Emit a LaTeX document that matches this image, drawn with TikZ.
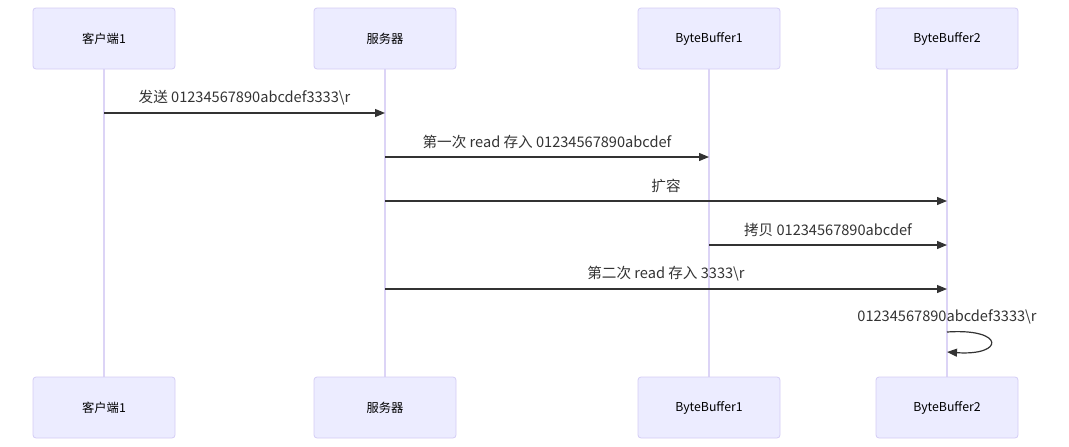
\documentclass[tikz,border=0pt]{standalone}
\usepackage{fontspec}
\setmainfont{Noto Sans CJK SC}
\usetikzlibrary{arrows.meta}
\definecolor{actfill}{HTML}{ECECFF}
\definecolor{actline}{HTML}{D4CCF5}
\definecolor{lifeline}{HTML}{DCD4F6}
\definecolor{msg}{HTML}{333333}
\tikzset{
  actor/.style={draw=actline, fill=actfill, rounded corners=3pt, line width=0.8pt,
    minimum width=142pt, minimum height=61pt, font=\fontsize{12.3}{14}\selectfont, text=black},
  life/.style={draw=lifeline, line width=1.2pt},
  msgline/.style={draw=msg, line width=1.2pt, -{Triangle[length=10pt,width=8pt]}},
  lbl/.style={font=\fontsize{14.6}{16}\selectfont, text=msg, inner sep=0pt},
}
\begin{document}
\begin{tikzpicture}[x=1pt,y=-1pt]
\useasboundingbox (0,0) rectangle (1069,447);
% lifelines
\foreach \n/\x in {a/104,b/385,c/709,d/947}{
  \coordinate (\n t) at (\x,69);
  \coordinate (\n b) at (\x,377);
  \draw[life] (\n t) -- (\n b);
}
\node[actor] (A1) at (104,38.5) {客户端1};
\node[actor] (B1) at (385,38.5) {服务器};
\node[actor] (C1) at (709,38.5) {ByteBuffer1};
\node[actor] (D1) at (947,38.5) {ByteBuffer2};
\node[actor] (A2) at (104,407.5) {客户端1};
\node[actor] (B2) at (385,407.5) {服务器};
\node[actor] (C2) at (709,407.5) {ByteBuffer1};
\node[actor] (D2) at (947,407.5) {ByteBuffer2};
% message anchors
\coordinate (m1s) at (104,113); \coordinate (m1e) at (385,113);
\coordinate (m2s) at (385,157); \coordinate (m2e) at (709,157);
\coordinate (m3s) at (385,201); \coordinate (m3e) at (947,201);
\coordinate (m4s) at (709,245); \coordinate (m4e) at (947,245);
\coordinate (m5s) at (385,289); \coordinate (m5e) at (947,289);
\draw[msgline] (m1s) -- (m1e);
\draw[msgline] (m2s) -- (m2e);
\draw[msgline] (m3s) -- (m3e);
\draw[msgline] (m4s) -- (m4e);
\draw[msgline] (m5s) -- (m5e);
\node[lbl] (l1) at (244.5,98) {发送 01234567890abcdef3333\textbackslash r};
\node[lbl] (l2) at (547,142) {第一次 read 存入 01234567890abcdef};
\node[lbl] (l3) at (666,186) {扩容};
\node[lbl] (l4) at (828,230) {拷贝 01234567890abcdef};
\node[lbl] (l5) at (666,274) {第二次 read 存入 3333\textbackslash r};
\node[lbl] (l6) at (947,317) {01234567890abcdef3333\textbackslash r};
\coordinate (s1) at (947,332);
\coordinate (s2) at (947,352);
\draw[msgline] (s1) .. controls (1005,328) and (1005,356) .. (s2);
\end{tikzpicture}
\end{document}
